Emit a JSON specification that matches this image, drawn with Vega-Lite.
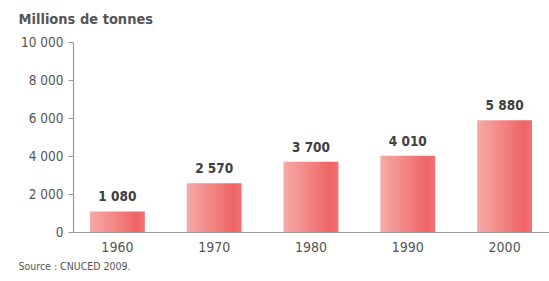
{
  "$schema": "https://vega.github.io/schema/vega-lite/v6.json",
  "width": 476,
  "height": 190,
  "autosize": {"type": "none"},
  "padding": {"left": 73, "top": 42, "right": 0, "bottom": 49},
  "background": "#ffffff",
  "config": {
    "locale": {"number": {"decimal": ",", "thousands": " ", "grouping": [3], "currency": ["", " €"]}},
    "view": {"stroke": null},
    "font": "DejaVu Sans Condensed, Roboto, sans-serif"
  },
  "data": {
    "values": [
      {"annee": "1960", "volume": 1080},
      {"annee": "1970", "volume": 2570},
      {"annee": "1980", "volume": 3700},
      {"annee": "1990", "volume": 4010},
      {"annee": "2000", "volume": 5880}
    ]
  },
  "encoding": {
    "x": {
      "field": "annee",
      "type": "nominal",
      "scale": {"paddingInner": 0.433, "paddingOuter": 0.175},
      "axis": {
        "title": "Source : CNUCED 2009.",
        "titleX": -55,
        "titleY": 37,
        "titleAlign": "left",
        "titleBaseline": "alphabetic",
        "titleFontSize": 10.5,
        "titleFontWeight": "normal",
        "titleColor": "#555555",
        "labelAngle": 0,
        "labelFontSize": 14,
        "labelColor": "#555555",
        "labelPadding": 8,
        "ticks": false,
        "domainColor": "#9a9a9a",
        "domainWidth": 1.2
      }
    },
    "y": {
      "field": "volume",
      "type": "quantitative",
      "scale": {"domain": [0, 10000], "nice": false},
      "axis": {
        "title": "Millions de tonnes",
        "titleAngle": 0,
        "titleX": -55,
        "titleY": -19,
        "titleAlign": "left",
        "titleBaseline": "alphabetic",
        "titleFontSize": 14.5,
        "titleFontWeight": "bold",
        "titleColor": "#555555",
        "values": [0, 2000, 4000, 6000, 8000, 10000],
        "format": ",d",
        "labelFontSize": 13.5,
        "labelColor": "#555555",
        "labelPadding": 5,
        "tickSize": 5,
        "tickColor": "#9a9a9a",
        "domainColor": "#9a9a9a",
        "domainWidth": 1.2,
        "grid": false
      }
    }
  },
  "layer": [
    {
      "mark": {
        "type": "bar",
        "color": {
          "gradient": "linear",
          "x1": 0, "x2": 1, "y1": 0, "y2": 0,
          "stops": [
            {"offset": 0, "color": "#f6aaa8"},
            {"offset": 0.5, "color": "#f28280"},
            {"offset": 0.85, "color": "#ee6464"},
            {"offset": 1, "color": "#f07472"}
          ]
        }
      }
    },
    {
      "mark": {"type": "text", "baseline": "bottom", "dy": -7, "fontSize": 13.5, "fontWeight": 600, "color": "#404040"},
      "encoding": {"text": {"field": "volume", "type": "quantitative", "format": ",d"}}
    }
  ]
}
